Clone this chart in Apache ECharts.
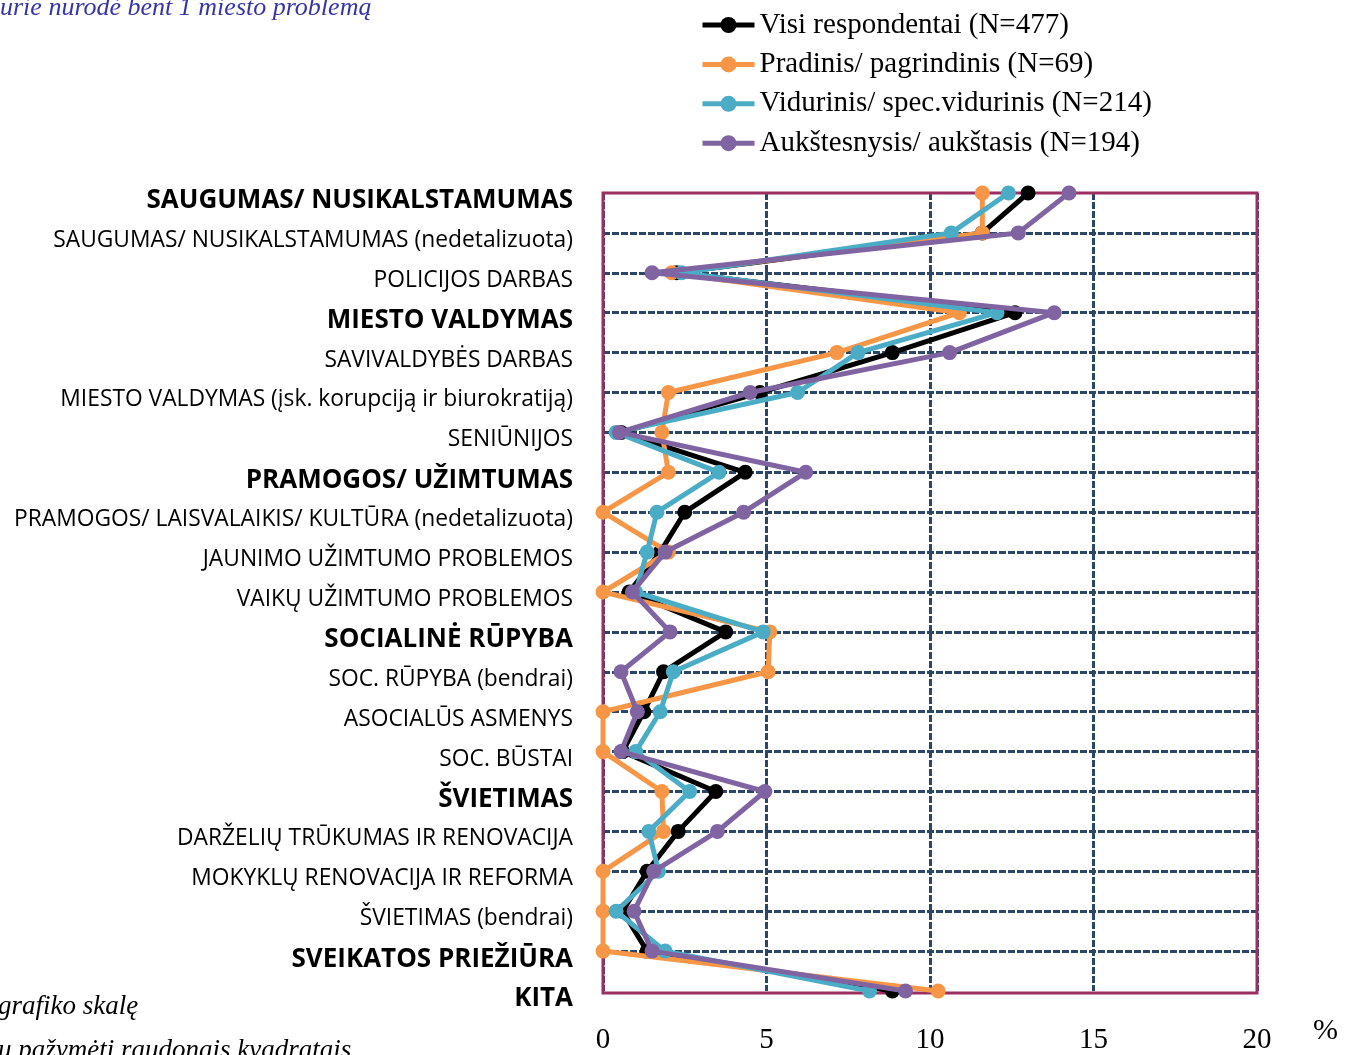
<!DOCTYPE html>
<html>
<head>
<meta charset="utf-8">
<script src="https://cdn.jsdelivr.net/npm/echarts@6/dist/echarts.min.js"></script>
<style>
  html, body { margin: 0; padding: 0; background: #fff; }
  #chart { width: 1345px; height: 1055px; }
</style>
</head>
<body>
<div id="chart"></div>
<script>
// kategorijos (iš viršaus į apačią)
const categories = [
  'SAUGUMAS/ NUSIKALSTAMUMAS',
  'SAUGUMAS/ NUSIKALSTAMUMAS (nedetalizuota)',
  'POLICIJOS DARBAS',
  'MIESTO VALDYMAS',
  'SAVIVALDYBĖS DARBAS',
  'MIESTO VALDYMAS (įsk. korupciją ir biurokratiją)',
  'SENIŪNIJOS',
  'PRAMOGOS/ UŽIMTUMAS',
  'PRAMOGOS/ LAISVALAIKIS/ KULTŪRA (nedetalizuota)',
  'JAUNIMO UŽIMTUMO PROBLEMOS',
  'VAIKŲ UŽIMTUMO PROBLEMOS',
  'SOCIALINĖ RŪPYBA',
  'SOC. RŪPYBA (bendrai)',
  'ASOCIALŪS ASMENYS',
  'SOC. BŪSTAI',
  'ŠVIETIMAS',
  'DARŽELIŲ TRŪKUMAS IR RENOVACIJA',
  'MOKYKLŲ RENOVACIJA IR REFORMA',
  'ŠVIETIMAS (bendrai)',
  'SVEIKATOS PRIEŽIŪRA',
  'KITA'
]

// grupių pavadinimai (paryškinti)
const headerCategories = [
  'SAUGUMAS/ NUSIKALSTAMUMAS',
  'MIESTO VALDYMAS',
  'PRAMOGOS/ UŽIMTUMAS',
  'SOCIALINĖ RŪPYBA',
  'ŠVIETIMAS',
  'SVEIKATOS PRIEŽIŪRA',
  'KITA'
]

const seriesNames = [
  'Visi respondentai (N=477)',
  'Pradinis/ pagrindinis (N=69)',
  'Vidurinis/ spec.vidurinis (N=214)',
  'Aukštesnysis/ aukštasis (N=194)'
]

const visi = [13.0, 11.6, 2.25, 12.6, 8.85, 4.8, 0.55, 4.35, 2.5, 1.75, 0.8, 3.75, 1.85, 1.25, 0.6, 3.45, 2.3, 1.35, 0.6, 1.35, 8.85]
const pradinis = [11.6, 11.6, 2.1, 10.9, 7.15, 2.0, 1.8, 2.0, 0, 2.0, 0, 5.1, 5.05, 0, 0, 1.8, 1.85, 0, 0, 0, 10.25]
const vidurinis = [12.4, 10.65, 2.4, 12.05, 7.8, 5.95, 0.4, 3.55, 1.65, 1.35, 1.0, 4.9, 2.15, 1.75, 1.0, 2.65, 1.4, 1.7, 0.4, 1.9, 8.15]
const aukstasis = [14.25, 12.7, 1.5, 13.8, 10.6, 4.5, 0.5, 6.2, 4.3, 1.9, 0.9, 2.05, 0.55, 1.05, 0.55, 4.95, 3.5, 1.55, 0.95, 1.5, 9.25]

const colors = ['#000000', '#F79646', '#4BACC6', '#8064A2']

const gridLine = {
  color: '#2B4666',
  width: 3,
  type: [7, 2]
}

const serifFont = '"Liberation Serif", "DejaVu Serif", serif'
const sansFont = '"Open Sans", "Noto Sans", sans-serif'

const chart = echarts.init(document.getElementById('chart'))

const makeSeries = (name, data, i) => ({
  name,
  type: 'line',
  data,
  z: 3 + i,
  symbol: 'circle',
  symbolSize: 15,
  lineStyle: { width: 5, color: colors[i] },
  itemStyle: { color: colors[i] },
  emphasis: { disabled: true }
})

const option = {
  animation: false,
  color: colors,
  grid: {
    left: 603,
    right: 88,
    top: 193,
    bottom: 62,
    show: false
  },
  legend: {
    orient: 'vertical',
    left: 700,
    top: 10.5,
    padding: 0,
    itemWidth: 52,
    itemHeight: 20,
    itemGap: 10.4,
    data: seriesNames,
    lineStyle: { width: 5 },
    textStyle: {
      fontFamily: serifFont,
      fontSize: 29,
      lineHeight: 28,
      color: '#000'
    }
  },
  xAxis: {
    type: 'value',
    min: 0,
    max: 20,
    interval: 5,
    axisLine: { show: false },
    axisTick: { show: false },
    axisLabel: {
      margin: 35,
      fontFamily: serifFont,
      fontSize: 29,
      color: '#000'
    },
    splitLine: { show: true, lineStyle: gridLine }
  },
  yAxis: {
    type: 'category',
    data: categories,
    inverse: true,
    boundaryGap: false,
    axisLine: { show: false },
    axisTick: { show: false },
    splitLine: {
      show: true,
      interval: (idx) => idx > 0 && idx < categories.length - 1,
      lineStyle: gridLine
    },
    axisLabel: {
      margin: 30,
      interval: 0,
      formatter: (value) => headerCategories.includes(value) ? `{h|${value}}` : `{n|${value}}`,
      rich: {
        h: {
          fontFamily: sansFont,
          fontWeight: 'bold',
          fontSize: 26,
          padding: [16, 0, 0, 0],
          color: '#000'
        },
        n: {
          fontFamily: sansFont,
          fontSize: 22.8,
          padding: [15, 0, 0, 0],
          color: '#000'
        }
      }
    }
  },
  graphic: [
    {
      // rėmelis aplink grafiko plotą
      type: 'rect',
      z: 1,
      silent: true,
      shape: { x: 603, y: 193, width: 654, height: 800 },
      style: { fill: 'none', stroke: '#9B2F62', lineWidth: 3 }
    },
    {
      type: 'text',
      left: 1313,
      top: 1016,
      style: { text: '%', fontFamily: serifFont, fontSize: 30, fill: '#000' }
    },
    {
      type: 'text',
      left: 0,
      top: -5,
      style: {
        text: 'urie nurodė bent 1 miesto problemą',
        fontFamily: serifFont,
        fontStyle: 'italic',
        fontSize: 26,
        fill: '#3535A6'
      }
    },
    {
      type: 'text',
      left: -2,
      top: 993,
      style: {
        text: 'grafiko skalę',
        fontFamily: serifFont,
        fontStyle: 'italic',
        fontSize: 27,
        fill: '#000'
      }
    },
    {
      type: 'text',
      left: -2,
      top: 1037,
      style: {
        text: 'u pažymėti raudonais kvadratais',
        fontFamily: serifFont,
        fontStyle: 'italic',
        fontSize: 27,
        fill: '#000'
      }
    }
  ],
  series: [
    makeSeries(seriesNames[0], visi, 0),
    makeSeries(seriesNames[1], pradinis, 1),
    makeSeries(seriesNames[2], vidurinis, 2),
    makeSeries(seriesNames[3], aukstasis, 3)
  ]
}

chart.setOption(option)
</script>
</body>
</html>
